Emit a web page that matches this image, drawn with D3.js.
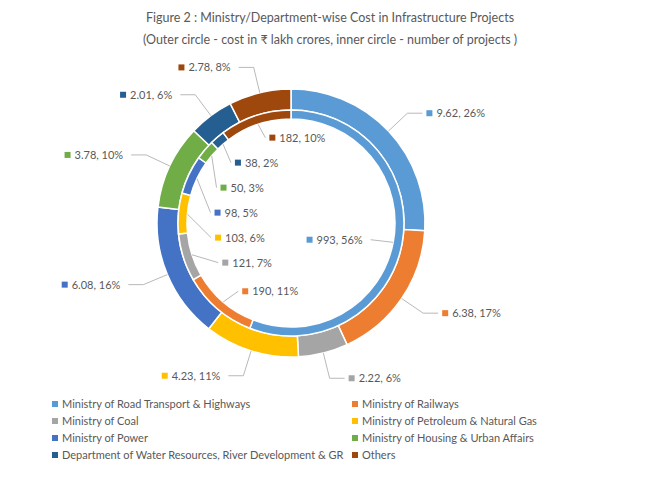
<!DOCTYPE html>
<html><head><meta charset="utf-8">
<script src="https://cdn.jsdelivr.net/npm/d3@7"></script>
<style>body{margin:0;background:#fff}text{font-family:Lato,Calibri,sans-serif;fill:#595959}</style>
</head><body><svg id="c" width="659" height="479"></svg>
<script>
const categories = ['Ministry of Road Transport & Highways', 'Ministry of Railways', 'Ministry of Coal',
  'Ministry of Petroleum & Natural Gas', 'Ministry of Power', 'Ministry of Housing & Urban Affairs',
  'Department of Water Resources, River Development & GR', 'Others'];
const costValues = [9.62, 6.38, 2.22, 4.23, 6.08, 3.78, 2.01, 2.78];
const costPct = ['26%', '17%', '6%', '11%', '16%', '10%', '6%', '8%'];
const projectCounts = [993, 190, 121, 103, 98, 50, 38, 182];
const projectPct = ['56%', '11%', '7%', '6%', '5%', '3%', '2%', '10%'];
const colors = ['#5B9BD5', '#ED7D31', '#A5A5A5', '#FFC000', '#4472C4', '#70AD47', '#255E91', '#9E480E'];

const svg = d3.select('#c');
const cx = 291, cy = 223;
svg.append('text').attr('x', 330).attr('y', 22).attr('text-anchor', 'middle').style('font-size', '12.5px')
  .text('Figure 2 : Ministry/Department-wise Cost in Infrastructure Projects');
svg.append('text').attr('x', 330).attr('y', 44).attr('text-anchor', 'middle').style('font-size', '12.5px')
  .text('(Outer circle - cost in ₹ lakh crores, inner circle - number of projects )');

const g = svg.append('g').attr('transform', `translate(${cx},${cy})`);
const pie = d3.pie().sort(null).value(d => d);
const outerArc = d3.arc().innerRadius(113).outerRadius(134);
const innerArc = d3.arc().innerRadius(104).outerRadius(113);

function ring(values, arc, labels, pct, labelR, anchorOut, minGap) {
  const arcs = pie(values);
  g.append('g').selectAll('path').data(arcs).enter().append('path')
    .attr('d', arc).attr('fill', (d, i) => colors[i]).attr('stroke', '#fff').attr('stroke-width', 1.5);
  const pts = arcs.map((d, i) => {
    const a = (d.startAngle + d.endAngle) / 2;
    return { i, a, lx: Math.sin(a) * labelR, ly: -Math.cos(a) * labelR };
  });
  // spread labels vertically on each side so they do not collide
  [true, false].forEach(side => {
    const s = pts.filter(p => (p.lx >= 0) === side).sort((p, q) => p.ly - q.ly);
    for (let k = 1; k < s.length; k++) {
      if (s[k].ly - s[k - 1].ly < minGap) s[k].ly = s[k - 1].ly + minGap;
    }
    if (!anchorOut) s.forEach(p => { p.lx = (side ? 1 : -1) * Math.sqrt(Math.max(0, labelR * labelR - p.ly * p.ly)) * 0.9 + (side ? 0 : 0); });
  });
  pts.forEach(p => {
    const i = p.i, a = p.a;
    const r0 = anchorOut ? arc.outerRadius()() : arc.innerRadius()();
    const sx = Math.sin(a) * r0, sy = -Math.cos(a) * r0;
    const lx = p.lx, ly = p.ly;
    const right = lx >= 0;
    const ex = anchorOut ? lx + (right ? 15 : -15) : lx;
    g.append('polyline').attr('points', `${sx},${sy} ${lx},${ly} ${ex},${ly}`)
      .attr('fill', 'none').attr('stroke', '#A6A6A6').attr('stroke-width', 0.8);
    const tx = anchorOut ? ex + (right ? 4 : -4) : lx + (right ? -4 : 4);
    const textAnchorRight = anchorOut ? right : !right;
    const t = g.append('g').attr('transform', `translate(${tx},${ly})`);
    const label = `${labels[i]}, ${pct[i]}`;
    const txt = t.append('text').attr('x', textAnchorRight ? 10 : -4).attr('y', 4)
      .attr('text-anchor', textAnchorRight ? 'start' : 'end').style('font-size', '11px').text(label);
    const w = txt.node().getComputedTextLength();
    t.append('rect').attr('x', textAnchorRight ? 0 : -w - 14).attr('y', -3).attr('width', 6).attr('height', 6)
      .attr('fill', colors[i]);
  });
}
ring(costValues, outerArc, costValues.map(v => v.toFixed(2)), costPct, 160, true, 14);
ring(projectCounts, innerArc, projectCounts, projectPct, 90, false, 25);

const legend = svg.append('g').selectAll('g').data(categories).enter().append('g')
  .attr('transform', (d, i) => `translate(${i % 2 ? 352 : 52},${404 + Math.floor(i / 2) * 17})`);
legend.append('rect').attr('x', 0).attr('y', -3).attr('width', 6).attr('height', 6).attr('fill', (d, i) => colors[i]);
legend.append('text').attr('x', 10).attr('y', 4).style('font-size', '11px').text(d => d);
</script></body></html>
